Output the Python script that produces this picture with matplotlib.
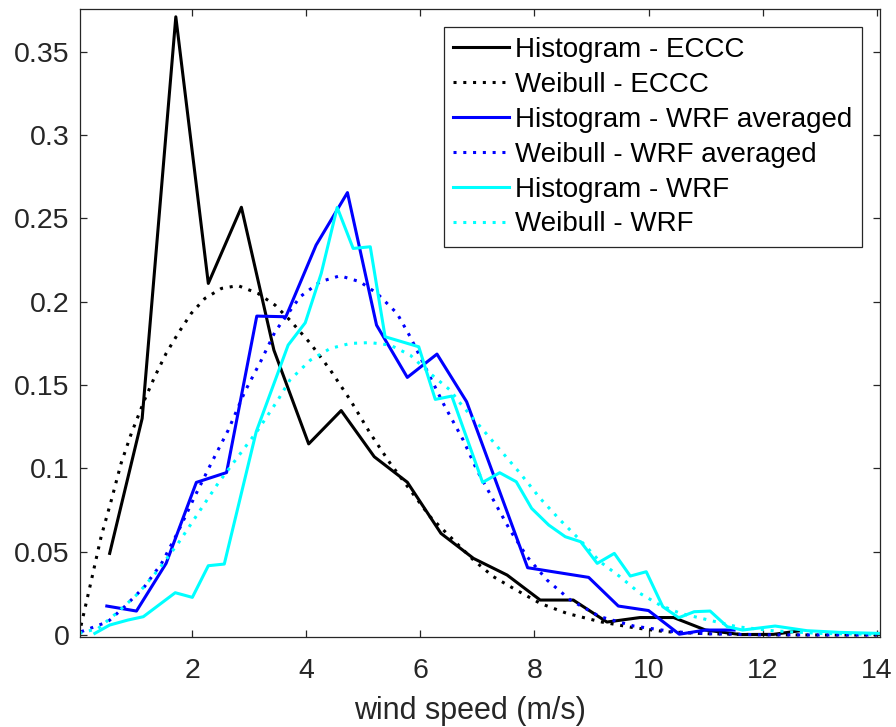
import matplotlib
matplotlib.use("Agg")
import matplotlib.pyplot as plt

plt.rcParams['font.family'] = ['Liberation Sans', 'DejaVu Sans']

# histogram ECCC (black solid)
eccc_x = [0.55, 1.12, 1.71, 2.28, 2.86, 3.43, 4.04, 4.61, 5.19, 5.77, 6.36, 6.93,
          7.52, 8.10, 8.68, 9.27, 9.85, 10.44, 11.00, 11.61, 12.19, 12.66]
eccc_y = [0.049, 0.130, 0.371, 0.211, 0.2567, 0.171, 0.1147, 0.1347, 0.107, 0.0917, 0.061, 0.046,
          0.036, 0.021, 0.021, 0.0078, 0.0105, 0.0105, 0.003, 0.0003, 0.0004, 0.0026]

# weibull ECCC (black dotted)
wb_eccc_x = [0.0, 0.05, 0.23, 0.40, 0.58, 0.75, 0.93, 1.16, 1.34, 1.54, 1.75, 1.98, 2.22, 2.51,
             2.80, 3.15, 3.45, 3.71, 4.07, 4.42, 4.77, 5.12, 5.47, 5.82, 6.17, 6.52, 6.93, 7.28,
             7.63, 8.10, 8.57, 9.15, 9.74, 10.3, 11.0, 12.0, 13.0, 14.0]
wb_eccc_y = [0.0, 0.006, 0.033, 0.059, 0.081, 0.103, 0.121, 0.141, 0.155, 0.169, 0.181, 0.193,
             0.202, 0.208, 0.2097, 0.205, 0.198, 0.189, 0.175, 0.159, 0.141, 0.121, 0.103, 0.087,
             0.071, 0.059, 0.045, 0.035, 0.028, 0.019, 0.013, 0.008, 0.0044, 0.002, 0.0008,
             0.0002, 0.0, 0.0]

# histogram WRF averaged (blue solid)
wrfa_x = [0.50, 1.02, 1.54, 2.07, 2.60, 3.13, 3.64, 4.17, 4.72, 5.23, 5.77, 6.29, 6.81,
          7.88, 8.95, 9.47, 10.00, 10.54, 11.00, 11.50]
wrfa_y = [0.0174, 0.0144, 0.043, 0.0916, 0.0975, 0.1914, 0.191, 0.234, 0.2655, 0.186, 0.1546,
          0.1686, 0.140, 0.0404, 0.0346, 0.0174, 0.0147, 0.0005, 0.003, 0.003]

# weibull WRF averaged (blue dotted)
wb_wrfa_x = [0.05, 0.52, 0.81, 1.16, 1.46, 1.75, 2.04, 2.33, 2.63, 2.92, 3.21, 3.45, 3.89,
             4.24, 4.59, 4.94, 5.24, 5.59, 5.82, 6.11, 6.40, 6.75, 6.99, 7.28, 7.57, 7.87,
             8.22, 8.63, 9.15, 9.74, 10.44, 11.0, 12.0, 14.0]
wb_wrfa_y = [0.002, 0.008, 0.017, 0.029, 0.043, 0.062, 0.083, 0.103, 0.123, 0.146, 0.165,
             0.182, 0.203, 0.212, 0.2156, 0.212, 0.205, 0.193, 0.179, 0.159, 0.139, 0.117,
             0.099, 0.081, 0.063, 0.047, 0.033, 0.021, 0.011, 0.0054, 0.002, 0.0008, 0.0001, 0.0]

# histogram WRF (cyan solid)
wrf_x = [0.29, 0.55, 0.87, 1.14, 1.70, 2.00, 2.28, 2.56, 3.12, 3.68, 3.98, 4.26, 4.54, 4.82,
         5.12, 5.38, 5.97, 6.26, 6.55, 7.09, 7.39, 7.68, 7.95, 8.25, 8.54, 8.81, 9.10, 9.40,
         9.68, 9.96, 10.25, 10.53, 10.80, 11.08, 11.38, 11.65, 12.22, 12.78, 13.36, 14.04]
wrf_y = [0.001, 0.006, 0.009, 0.011, 0.0254, 0.0226, 0.0416, 0.0426, 0.122, 0.174, 0.1874,
         0.217, 0.2566, 0.232, 0.233, 0.179, 0.173, 0.1414, 0.1434, 0.0916, 0.0974, 0.092,
         0.076, 0.066, 0.059, 0.056, 0.043, 0.049, 0.0354, 0.038, 0.017, 0.0104, 0.014, 0.0144,
         0.005, 0.003, 0.0054, 0.0026, 0.0016, 0.001]

# weibull WRF (cyan dotted)
wb_wrf_x = [0.02, 0.35, 0.70, 1.05, 1.40, 1.75, 2.10, 2.45, 2.80, 3.15, 3.50, 3.71, 4.07,
            4.42, 4.77, 5.12, 5.47, 5.82, 6.17, 6.52, 6.70, 7.05, 7.40, 7.75, 8.10, 8.45,
            8.80, 9.15, 9.50, 9.85, 10.20, 10.56, 11.08, 11.55, 12.2, 13.0, 14.0]
wb_wrf_y = [0.001, 0.004, 0.014, 0.025, 0.039, 0.055, 0.073, 0.091, 0.107, 0.123, 0.141,
            0.153, 0.165, 0.172, 0.175, 0.1755, 0.174, 0.168, 0.157, 0.147, 0.139, 0.125,
            0.111, 0.097, 0.082, 0.069, 0.057, 0.044, 0.035, 0.025, 0.018, 0.013, 0.0088,
            0.005, 0.0025, 0.001, 0.0004]

labels = ['Histogram - ECCC', 'Weibull - ECCC', 'Histogram - WRF averaged',
          'Weibull - WRF averaged', 'Histogram - WRF', 'Weibull - WRF']

yticks = [0, 0.05, 0.1, 0.15, 0.2, 0.25, 0.3, 0.35]
ytick_labels = ['0', '0.05', '0.1', '0.15', '0.2', '0.25', '0.3', '0.35']
xticks = [2, 4, 6, 8, 10, 12, 14]

fig = plt.figure(figsize=(8.96, 7.27), dpi=100)
ax = fig.add_axes([0.0893, 0.1242, 0.8929, 0.863])

lw = 2.2
dot = (0, (1, 2.2))
blue = (0, 0, 1)
cyan = (0, 1, 1)
ax.plot(eccc_x, eccc_y, color='k', lw=lw, label=labels[0])
ax.plot(wb_eccc_x, wb_eccc_y, color='k', lw=lw, ls=dot, label=labels[1])
ax.plot(wrfa_x, wrfa_y, color=blue, lw=lw, label=labels[2])
ax.plot(wb_wrfa_x, wb_wrfa_y, color=blue, lw=lw, ls=dot, label=labels[3])
ax.plot(wrf_x, wrf_y, color=cyan, lw=lw, label=labels[4])
ax.plot(wb_wrf_x, wb_wrf_y, color=cyan, lw=lw, ls=dot, label=labels[5])

ax.set_xlim(0.03, 14.06)
ax.set_ylim(-0.001, 0.3755)
ax.set_xticks(xticks)
ax.set_yticks(yticks)
ax.set_yticklabels(ytick_labels)

axc = '#262626'
for s in ax.spines.values():
    s.set_color(axc)
    s.set_linewidth(0.9)
ax.tick_params(direction='in', length=5, width=0.9, colors=axc, labelsize=20.5,
               top=True, right=True)
ax.tick_params(axis='y', pad=7.5)
ax.tick_params(axis='x', pad=15.5)
ax.set_xlabel('wind speed (m/s)', fontsize=22, color=axc, labelpad=10)
ax.xaxis.set_label_coords(0.487, -0.095)

leg = ax.legend(loc='upper right', bbox_to_anchor=(0.9775, 0.9713), borderaxespad=0,
                fontsize=20, handlelength=2.0, handletextpad=0.22, labelspacing=0.32,
                borderpad=0.35, fancybox=False, framealpha=1)
leg.get_frame().set_edgecolor(axc)
leg.get_frame().set_linewidth(0.9)

fig.savefig('out.png', dpi=100)
